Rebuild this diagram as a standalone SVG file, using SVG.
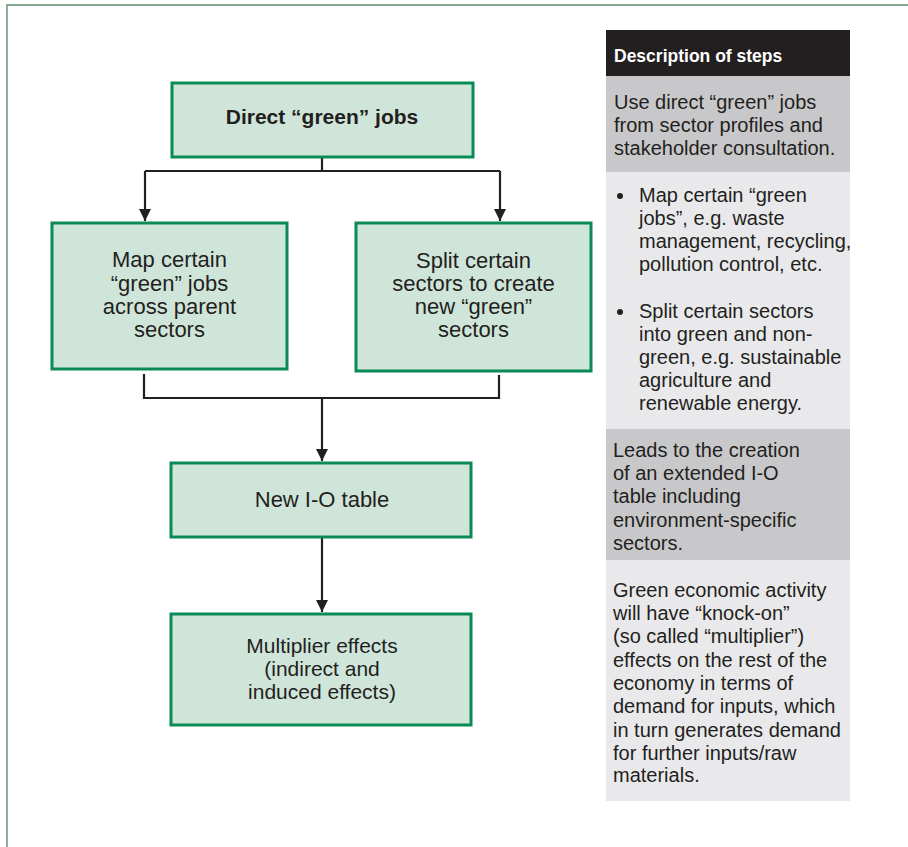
<svg xmlns="http://www.w3.org/2000/svg" width="908" height="847" viewBox="0 0 908 847">
<defs>
<style>
.box{fill:#d0e5da;stroke:#0a8a55;stroke-width:3}
.t{font-family:"Liberation Sans",Arial,sans-serif;font-size:22px;fill:#231f20;text-anchor:middle}
.ts{font-size:21px}
.tb{font-family:"Liberation Sans",Arial,sans-serif;font-size:21px;font-weight:bold;fill:#231f20;text-anchor:middle}
.p{font-family:"Liberation Sans",Arial,sans-serif;font-size:20px;fill:#231f20}
.h{font-family:"Liberation Sans",Arial,sans-serif;font-size:17.5px;font-weight:bold;fill:#ffffff}
.c{fill:none;stroke:#231f20;stroke-width:2.2}
</style>
<marker id="ah" viewBox="0 0 12 12" refX="12" refY="6" markerWidth="12" markerHeight="12" markerUnits="userSpaceOnUse" orient="auto">
<path d="M0,0 L12,6 L0,12 z" fill="#231f20"/>
</marker>
</defs>
<rect width="908" height="847" fill="#ffffff"/>
<path d="M7,847 V5 H908" fill="none" stroke="#5e8f6e" stroke-width="1.4"/>

<g id="connectors">
<path class="c" d="M322,157 V171"/>
<path class="c" d="M145,171 H500"/>
<path class="c" d="M145,171 V221" marker-end="url(#ah)"/>
<path class="c" d="M500,171 V221" marker-end="url(#ah)"/>
<path class="c" d="M144,374 V398 H499 V375"/>
<path class="c" d="M322,398 V461" marker-end="url(#ah)"/>
<path class="c" d="M322,538 V612" marker-end="url(#ah)"/>
</g>

<g id="direct">
<rect class="box" x="172" y="83" width="301" height="74"/>
<text class="tb" x="322" y="124">Direct “green” jobs</text>
</g>
<g id="map">
<rect class="box" x="52" y="223" width="235" height="146"/>
<text class="t" x="169.5" y="267">Map certain</text>
<text class="t" x="169.5" y="290.5">“green” jobs</text>
<text class="t" x="169.5" y="314">across parent</text>
<text class="t" x="169.5" y="337">sectors</text>
</g>
<g id="split">
<rect class="box" x="356" y="223" width="235" height="148"/>
<text class="t" x="473.5" y="268">Split certain</text>
<text class="t" x="473.5" y="291">sectors to create</text>
<text class="t" x="473.5" y="314">new “green”</text>
<text class="t" x="473.5" y="337">sectors</text>
</g>
<g id="io">
<rect class="box" x="171" y="463" width="300" height="74"/>
<text class="t" x="322" y="507">New I-O table</text>
</g>
<g id="multiplier">
<rect class="box" x="171" y="614" width="300" height="111"/>
<text class="t ts" x="322" y="653">Multiplier effects</text>
<text class="t ts" x="322" y="676">(indirect and</text>
<text class="t ts" x="322" y="699">induced effects)</text>
</g>

<g id="description">
<rect x="606" y="30" width="244" height="46" fill="#231f20"/>
<text class="h" x="614" y="62">Description of steps</text>
<rect x="606" y="76" width="244" height="96" fill="#c8c8ca"/>
<text class="p" x="614" y="109">Use direct “green” jobs</text>
<text class="p" x="614" y="132">from sector profiles and</text>
<text class="p" x="614" y="155">stakeholder consultation.</text>
<rect x="606" y="172" width="244" height="257" fill="#e9e9eb"/>
<circle cx="620" cy="196" r="3" fill="#231f20"/>
<text class="p" x="639" y="202">Map certain “green</text>
<text class="p" x="639" y="225">jobs”, e.g. waste</text>
<text class="p" x="639" y="248">management, recycling,</text>
<text class="p" x="639" y="271">pollution control, etc.</text>
<circle cx="620" cy="312" r="3" fill="#231f20"/>
<text class="p" x="639" y="318">Split certain sectors</text>
<text class="p" x="639" y="341">into green and non-</text>
<text class="p" x="639" y="364">green, e.g. sustainable</text>
<text class="p" x="639" y="387">agriculture and</text>
<text class="p" x="639" y="410">renewable energy.</text>
<rect x="606" y="429" width="244" height="131" fill="#c8c8ca"/>
<text class="p" x="613" y="457">Leads to the creation</text>
<text class="p" x="613" y="480">of an extended I-O</text>
<text class="p" x="613" y="503">table including</text>
<text class="p" x="613" y="527">environment-specific</text>
<text class="p" x="613" y="550">sectors.</text>
<rect x="606" y="560" width="244" height="241" fill="#e9e9eb"/>
<text class="p" x="613" y="597">Green economic activity</text>
<text class="p" x="613" y="620">will have “knock-on”</text>
<text class="p" x="613" y="643">(so called “multiplier”)</text>
<text class="p" x="613" y="667">effects on the rest of the</text>
<text class="p" x="613" y="690">economy in terms of</text>
<text class="p" x="613" y="713">demand for inputs, which</text>
<text class="p" x="613" y="737">in turn generates demand</text>
<text class="p" x="613" y="760">for further inputs/raw</text>
<text class="p" x="613" y="782">materials.</text>
</g>
</svg>
